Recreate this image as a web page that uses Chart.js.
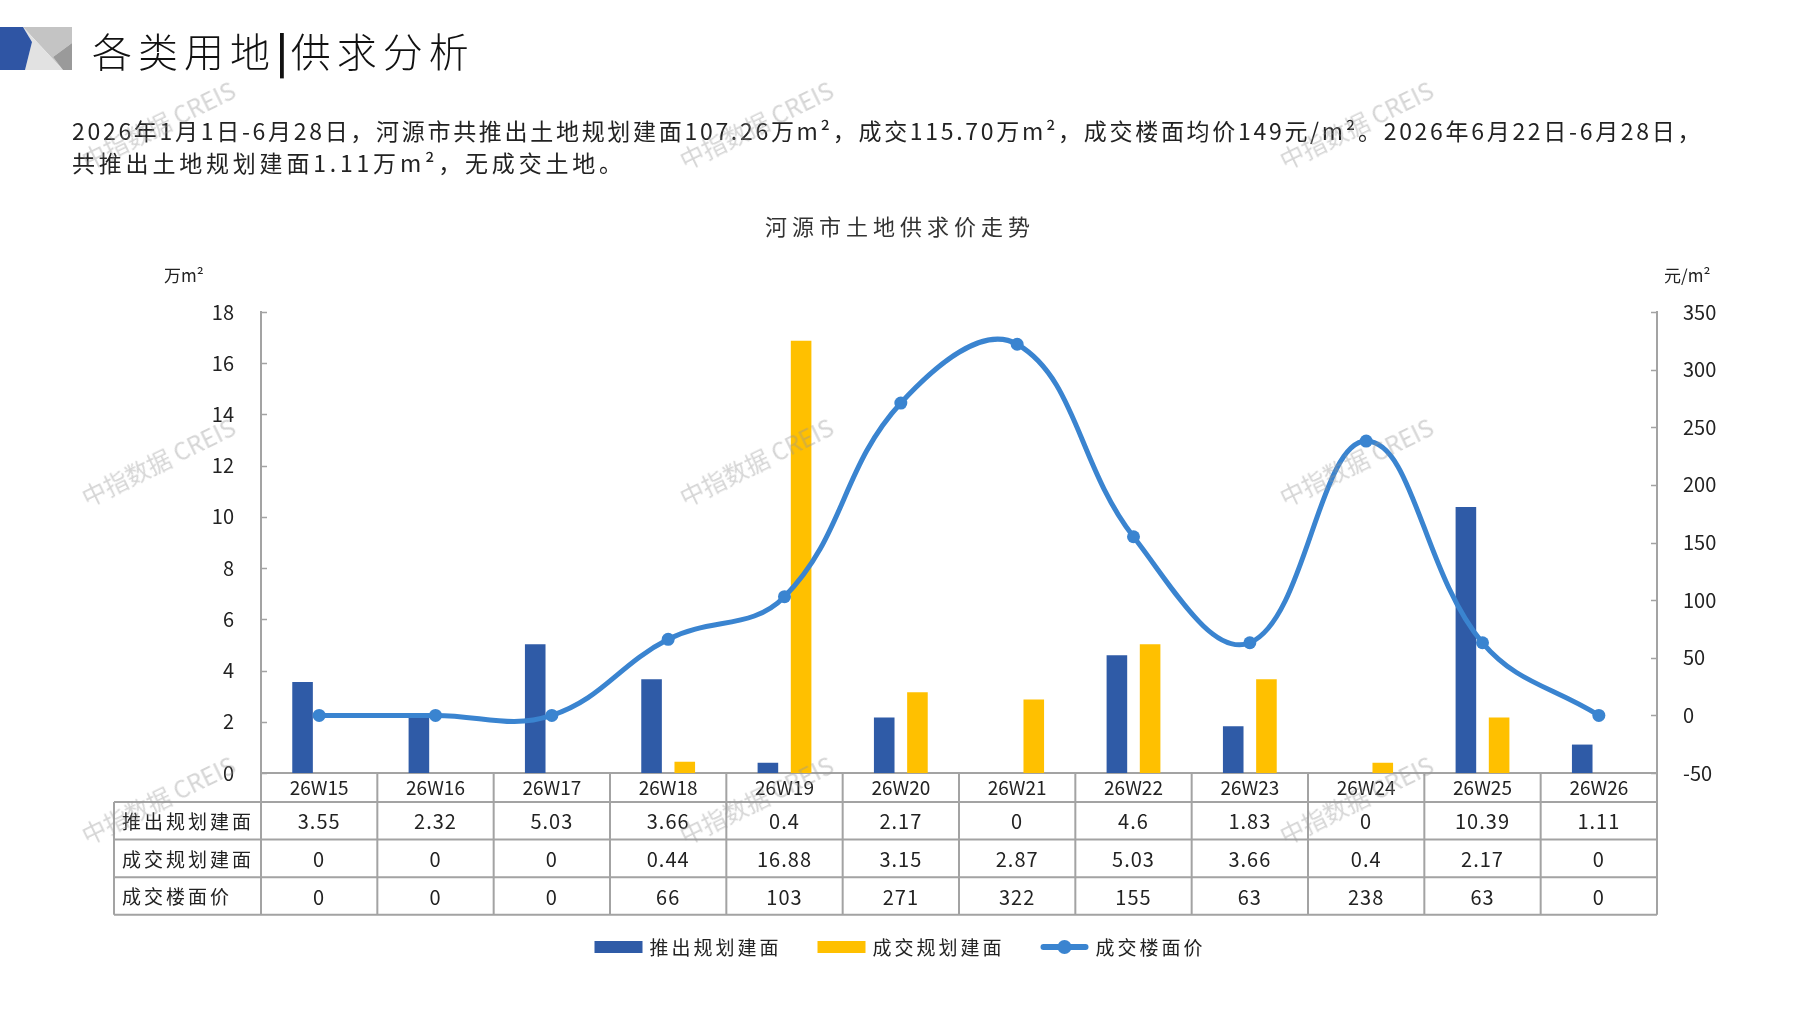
<!DOCTYPE html>
<html>
<head>
<meta charset="utf-8">
<script src="https://cdn.jsdelivr.net/npm/chart.js@4.4.1/dist/chart.umd.min.js"></script>
<style>
html,body{margin:0;padding:0;background:#fff;}
body{width:1797px;height:1010px;position:relative;overflow:hidden;font-family:'Noto Sans CJK SC','Noto Sans',sans-serif;color:#222;}
#c{position:absolute;left:0;top:0;}
.abs{position:absolute;white-space:nowrap;}
#logo{left:0;top:27px;}
#title{left:92px;top:22px;font-size:40px;line-height:56px;color:#111;letter-spacing:6px;font-weight:300;}
#title b{font-weight:700;letter-spacing:3px;}
.para{left:72px;font-size:23px;line-height:32px;color:#222;}
#ctitle{left:900px;top:210px;transform:translateX(-50%);font-size:22px;line-height:30px;letter-spacing:5px;color:#333;}
.unit{font-size:17px;line-height:22px;color:#222;}
.wm{position:absolute;font-size:24px;color:rgba(150,150,150,0.40);transform:translate(-50%,-50%) rotate(-26deg);white-space:nowrap;pointer-events:none;z-index:5;}
</style>
</head>
<body>
<canvas id="c" width="1797" height="1010"></canvas>
<svg id="logo" class="abs" width="72" height="43" viewBox="0 0 72 43">
  <polygon points="23,0 72,0 72,16 53,30 63,43" fill="#C4C4C4"/>
  <polygon points="23,0 63,43 25,43 32,15" fill="#E2E2E2"/>
  <polygon points="72,16 72,43 63,43 53,30" fill="#9A9A9A"/>
  <polygon points="0,0 23,0 32,15 25,43 0,43" fill="#2F55A4"/>
</svg>
<div id="title" class="abs">各类用地<b>|</b>供求分析</div>
<div class="abs para" style="top:114px;letter-spacing:2.7px;">2026年1月1日-6月28日，河源市共推出土地规划建面107.26万m²，成交115.70万m²，成交楼面均价149元/m²。2026年6月22日-6月28日，</div>
<div class="abs para" style="top:146px;letter-spacing:3.8px;">共推出土地规划建面1.11万m²，无成交土地。</div>
<div id="ctitle" class="abs">河源市土地供求价走势</div>
<div class="abs unit" style="left:164px;top:264px;">万m²</div>
<div class="abs unit" style="left:1664px;top:264px;">元/m²</div>
<div class="wm" style="left:158px;top:124px;">中指数据 CREIS</div>
<div class="wm" style="left:756px;top:124px;">中指数据 CREIS</div>
<div class="wm" style="left:1356px;top:124px;">中指数据 CREIS</div>
<div class="wm" style="left:158px;top:461px;">中指数据 CREIS</div>
<div class="wm" style="left:756px;top:461px;">中指数据 CREIS</div>
<div class="wm" style="left:1356px;top:461px;">中指数据 CREIS</div>
<div class="wm" style="left:158px;top:799px;">中指数据 CREIS</div>
<div class="wm" style="left:756px;top:799px;">中指数据 CREIS</div>
<div class="wm" style="left:1356px;top:799px;">中指数据 CREIS</div>
<script>
// ---- data ----
const categories = ['26W15','26W16','26W17','26W18','26W19','26W20','26W21','26W22','26W23','26W24','26W25','26W26'];
const launchArea = [3.55, 2.32, 5.03, 3.66, 0.4, 2.17, 0, 4.6, 1.83, 0, 10.39, 1.11];
const dealArea = [0, 0, 0, 0.44, 16.88, 3.15, 2.87, 5.03, 3.66, 0.4, 2.17, 0];
const dealPrice = [0, 0, 0, 66, 103, 271, 322, 155, 63, 238, 63, 0];
const seriesNames = ['推出规划建面', '成交规划建面', '成交楼面价'];
const leftAxisRange = [0, 18, 2];
const rightAxisRange = [-50, 350, 50];

// ---- styles ----
const FONT = "'Noto Sans CJK SC','Noto Sans',sans-serif";
const BLUE = '#2F5BA7';
const YELLOW = '#FFC000';
const LINE = '#3A84D0';
const AXIS = '#A3A3A3';
const TEXT = '#222';

const W = 1797, H = 1010;
const PLOT_TOP = 312, PLOT_LEFT = 261, PLOT_RIGHT = 1657, PLOT_BOTTOM = 773;
const TABLE_LEFT = 114, CAT_H = 29, ROW_H = 37.6;
const LEGEND_Y = 947, LEGEND_CX = 900;

const tablePlugin = {
  id: 'tableLegend',
  afterDraw(chart) {
    const {ctx, scales} = chart;
    const x = scales.x, y = scales.y, y1 = scales.y1;
    ctx.save();
    // inside tick marks
    ctx.strokeStyle = AXIS;
    ctx.lineWidth = 1.5;
    ctx.beginPath();
    y.ticks.forEach((t, i) => {
      const py = Math.round(y.getPixelForTick(i)) + 0.5;
      ctx.moveTo(y.right, py); ctx.lineTo(y.right + 6, py);
    });
    y1.ticks.forEach((t, i) => {
      const py = Math.round(y1.getPixelForTick(i)) + 0.5;
      ctx.moveTo(y1.left, py); ctx.lineTo(y1.left - 6, py);
    });
    ctx.stroke();

    // data table
    const n = categories.length;
    const colW = (x.right - x.left) / n;
    const top = x.top;
    const rowTops = [top + CAT_H];
    for (let r = 0; r < 3; r++) rowTops.push(rowTops[r] + ROW_H);
    const bottom = rowTops[3];
    ctx.strokeStyle = AXIS;
    ctx.lineWidth = 2;
    ctx.beginPath();
    rowTops.forEach(ry => { ctx.moveTo(TABLE_LEFT, ry); ctx.lineTo(x.right, ry); });
    ctx.moveTo(TABLE_LEFT, rowTops[0]); ctx.lineTo(TABLE_LEFT, bottom);
    for (let i = 0; i <= n; i++) {
      const px = x.left + i * colW;
      ctx.moveTo(px, top); ctx.lineTo(px, bottom);
    }
    ctx.stroke();

    const rows = [launchArea, dealArea, dealPrice];
    ctx.fillStyle = TEXT;
    ctx.textBaseline = 'middle';
    for (let r = 0; r < 3; r++) {
      const cy = rowTops[r] + ROW_H / 2 + 1;
      ctx.font = '19px ' + FONT;
      ctx.textAlign = 'left';
      ctx.letterSpacing = '3px';
      ctx.fillText(seriesNames[r], TABLE_LEFT + 8, cy);
      ctx.letterSpacing = '1px';
      ctx.font = '20px ' + FONT;
      ctx.textAlign = 'center';
      rows[r].forEach((v, i) => {
        ctx.fillText(String(v), x.getPixelForValue(i), cy);
      });
    }
    ctx.letterSpacing = '0px';

    // legend
    ctx.font = '19px ' + FONT;
    ctx.letterSpacing = '3px';
    const sw = 48, gap = 7, sep = 36;
    const ds = chart.data.datasets;
    const widths = ds.map(d => sw + gap + ctx.measureText(d.label).width);
    const total = widths.reduce((a, b) => a + b, 0) + sep * (ds.length - 1);
    let lx = LEGEND_CX - total / 2;
    ds.forEach((d, i) => {
      if (d.type === 'line') {
        ctx.strokeStyle = d.borderColor;
        ctx.lineWidth = 6;
        ctx.lineCap = 'round';
        ctx.beginPath(); ctx.moveTo(lx + 3, LEGEND_Y); ctx.lineTo(lx + sw - 3, LEGEND_Y); ctx.stroke();
        ctx.fillStyle = d.borderColor;
        ctx.beginPath(); ctx.arc(lx + sw / 2, LEGEND_Y, 7, 0, Math.PI * 2); ctx.fill();
      } else {
        ctx.fillStyle = d.backgroundColor;
        ctx.fillRect(lx, LEGEND_Y - 6, sw, 12);
      }
      ctx.fillStyle = TEXT;
      ctx.textAlign = 'left';
      ctx.textBaseline = 'middle';
      ctx.fillText(d.label, lx + sw + gap, LEGEND_Y + 1);
      lx += widths[i] + sep;
    });
    ctx.restore();
  }
};

new Chart(document.getElementById('c'), {
  type: 'bar',
  data: {
    labels: categories,
    datasets: [
      {label: seriesNames[0], data: launchArea, backgroundColor: BLUE, yAxisID: 'y', order: 1,
       categoryPercentage: 0.571, barPercentage: 0.62},
      {label: seriesNames[1], data: dealArea, backgroundColor: YELLOW, yAxisID: 'y', order: 1,
       categoryPercentage: 0.571, barPercentage: 0.62},
      {label: seriesNames[2], data: dealPrice, type: 'line', yAxisID: 'y1', order: 0,
       borderColor: LINE, backgroundColor: LINE, borderWidth: 5, tension: 0.4,
       pointRadius: 6.5, pointBackgroundColor: LINE, pointBorderWidth: 0, fill: false}
    ]
  },
  options: {
    responsive: false,
    animation: false,
    devicePixelRatio: 1,
    layout: {padding: {top: PLOT_TOP, left: 0, right: 0, bottom: 0}},
    plugins: {legend: {display: false}, title: {display: false}, tooltip: {enabled: false}},
    scales: {
      x: {
        position: 'bottom',
        grid: {display: false},
        border: {display: true, color: AXIS, width: 2},
        ticks: {color: TEXT, font: {family: FONT, size: 19}, padding: -5, maxRotation: 0, autoSkip: false},
        afterFit(s) { s.height = H - PLOT_BOTTOM; }
      },
      y: {
        position: 'left',
        min: leftAxisRange[0], max: leftAxisRange[1],
        grid: {display: false},
        border: {display: true, color: AXIS, width: 2},
        ticks: {stepSize: leftAxisRange[2], color: TEXT, font: {family: FONT, size: 20}, padding: 19},
        afterFit(s) { s.width = PLOT_LEFT; }
      },
      y1: {
        position: 'right',
        min: rightAxisRange[0], max: rightAxisRange[1],
        grid: {display: false},
        border: {display: true, color: AXIS, width: 2},
        ticks: {stepSize: rightAxisRange[2], color: TEXT, font: {family: FONT, size: 20}, padding: 18},
        afterFit(s) { s.width = W - PLOT_RIGHT; }
      }
    }
  },
  plugins: [tablePlugin]
});
</script>
</body>
</html>
